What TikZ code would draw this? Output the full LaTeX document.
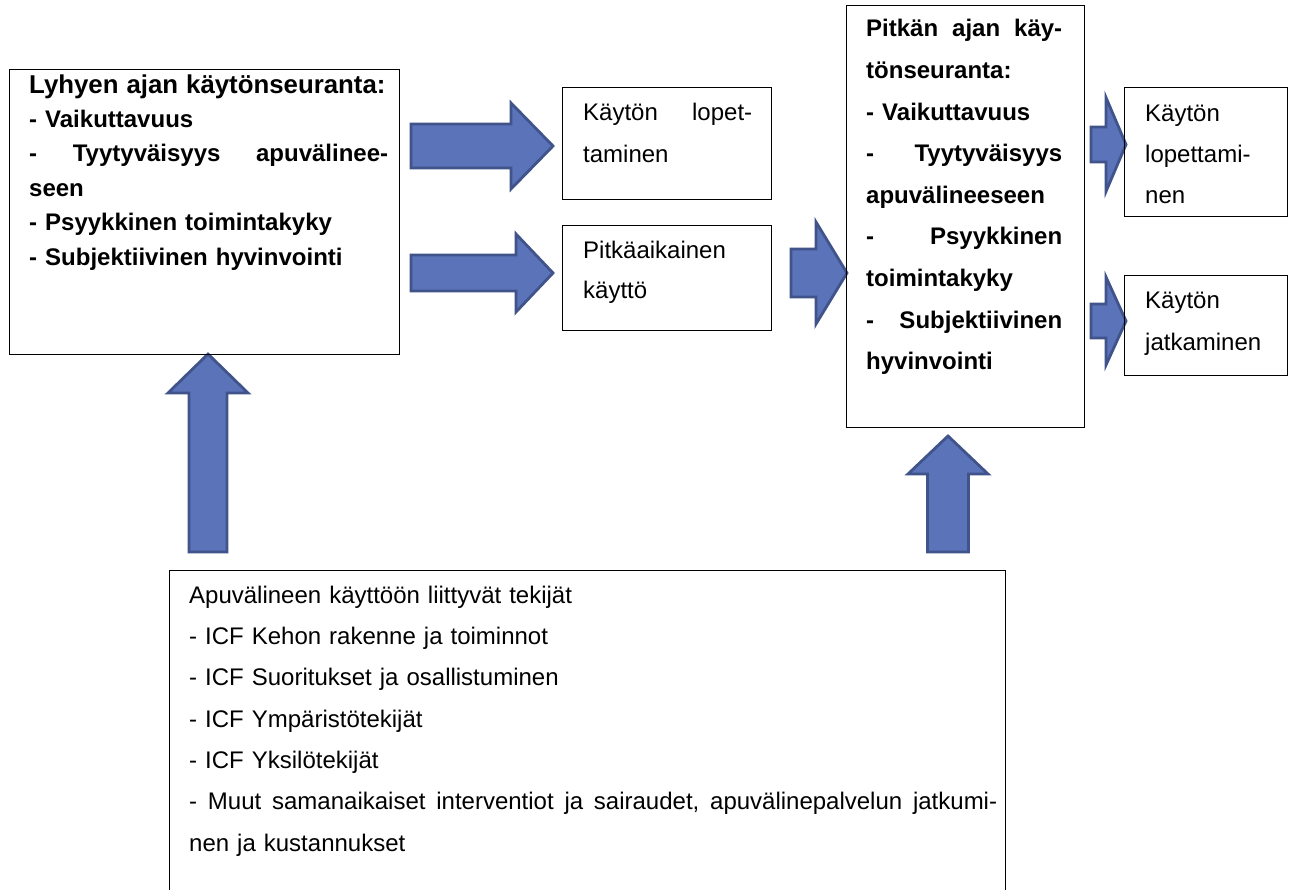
\documentclass[tikz,border=0pt]{standalone}
\usepackage{fontspec}
\setmainfont{Liberation Sans}
\definecolor{afill}{RGB}{91,115,184}
\definecolor{aline}{RGB}{64,83,138}
\tikzset{
  box/.style={draw=black, line width=1.3pt, inner sep=0pt, anchor=north west},
  txt/.style={anchor=north west, inner sep=0pt, align=left},
  barrow/.style={fill=afill, draw=aline, line width=2.8pt, line join=miter},
}
\newcommand{\J}[2]{\makebox[#1pt][l]{#2}}
\newcommand{\strt}{\rule{0pt}{20pt}}
% horizontal block arrow: tail x, tip x, centre y, shaft half, head half, head length
\newcommand{\hblock}[6]{\filldraw[barrow] (#1,#3-#4) -- (#2-#6,#3-#4) -- (#2-#6,#3-#5) -- (#2,#3) -- (#2-#6,#3+#5) -- (#2-#6,#3+#4) -- (#1,#3+#4) -- cycle;}
% vertical (upward) block arrow: centre x, bottom y, tip y, shaft half, head half, head length
\newcommand{\vblock}[6]{\filldraw[barrow] (#1-#4,#2) -- (#1-#4,#3+#6) -- (#1-#5,#3+#6) -- (#1,#3) -- (#1+#5,#3+#6) -- (#1+#4,#3+#6) -- (#1+#4,#2) -- cycle;}
\begin{document}
\begin{tikzpicture}[x=1pt,y=-1pt]
\useasboundingbox (0,0) rectangle (1293,890);
\fill[white] (0,0) rectangle (1293,890);

% block arrows
\hblock{411}{553}{146}{22}{43}{42}
\hblock{411}{553}{273}{18}{39}{37}
\hblock{791}{847}{273}{24}{51}{31}
\hblock{1091}{1126}{144.5}{17.5}{47}{20}
\hblock{1091}{1126}{321}{17}{44}{20}
\vblock{208}{552}{354}{19}{40}{39}
\vblock{948}{552}{436}{20.5}{40}{38}

% boxes
\node[box, minimum width=390pt, minimum height=285pt] (A) at (9,69) {};
\node[box, minimum width=209pt, minimum height=112pt] (B) at (562,87) {};
\node[box, minimum width=209pt, minimum height=105pt] (C) at (562,225) {};
\node[box, minimum width=238pt, minimum height=422pt] (D) at (846,5) {};
\node[box, minimum width=163pt, minimum height=129pt] (E) at (1124,87) {};
\node[box, minimum width=163pt, minimum height=100pt] (F) at (1124,275) {};
\node[box, minimum width=836pt, minimum height=340pt] (G) at (169,570) {};

% texts
\node[txt, text width=362pt, font=\bfseries\fontsize{24}{34.4}\selectfont] (At) at (29,73)
 {\strt{\fontsize{25.8}{34.4}\selectfont Lyhyen ajan käytönseuranta:}\\- Vaikuttavuus\\\J{359}{- \hfill Tyytyväisyys \hfill apuvälinee-}\\seen\\- Psyykkinen toimintakyky\\- Subjektiivinen hyvinvointi};
\node[txt, text width=172pt, font=\fontsize{24}{42}\selectfont] (Bt) at (583,100)
 {\strt\J{169}{Käytön \hfill lopet-}\\taminen};
\node[txt, text width=172pt, font=\fontsize{24}{40}\selectfont] (Ct) at (583,238)
 {\strt Pitkäaikainen\\käyttö};
\node[txt, text width=198pt, font=\bfseries\fontsize{24}{41.6}\selectfont] (Dt) at (866,16.7)
 {\strt\J{196}{Pitkän \hfill ajan \hfill käy-}\\tönseuranta:\\- Vaikuttavuus\\\J{196}{- \hfill Tyytyväisyys}\\apuvälineeseen\\\J{196}{- \hfill Psyykkinen}\\toimintakyky\\\J{196}{- \hfill Subjektiivinen}\\hyvinvointi};
\node[txt, text width=140pt, font=\fontsize{24}{41}\selectfont] (Et) at (1145,101)
 {\strt Käytön\\lopettami-\\nen};
\node[txt, text width=140pt, font=\fontsize{24}{42}\selectfont] (Ft) at (1145,288)
 {\strt Käytön\\jatkaminen};
\node[txt, text width=812pt, font=\fontsize{24}{41.3}\selectfont] (Gt) at (189,583)
 {\strt Apuvälineen käyttöön liittyvät tekijät\\- ICF Kehon rakenne ja toiminnot\\- ICF Suoritukset ja osallistuminen\\- ICF Ympäristötekijät\\- ICF Yksilötekijät\\\J{808}{- \hfill Muut \hfill samanaikaiset \hfill interventiot \hfill ja \hfill sairaudet, \hfill apuvälinepalvelun \hfill jatkumi-}\\nen ja kustannukset};
\end{tikzpicture}
\end{document}
